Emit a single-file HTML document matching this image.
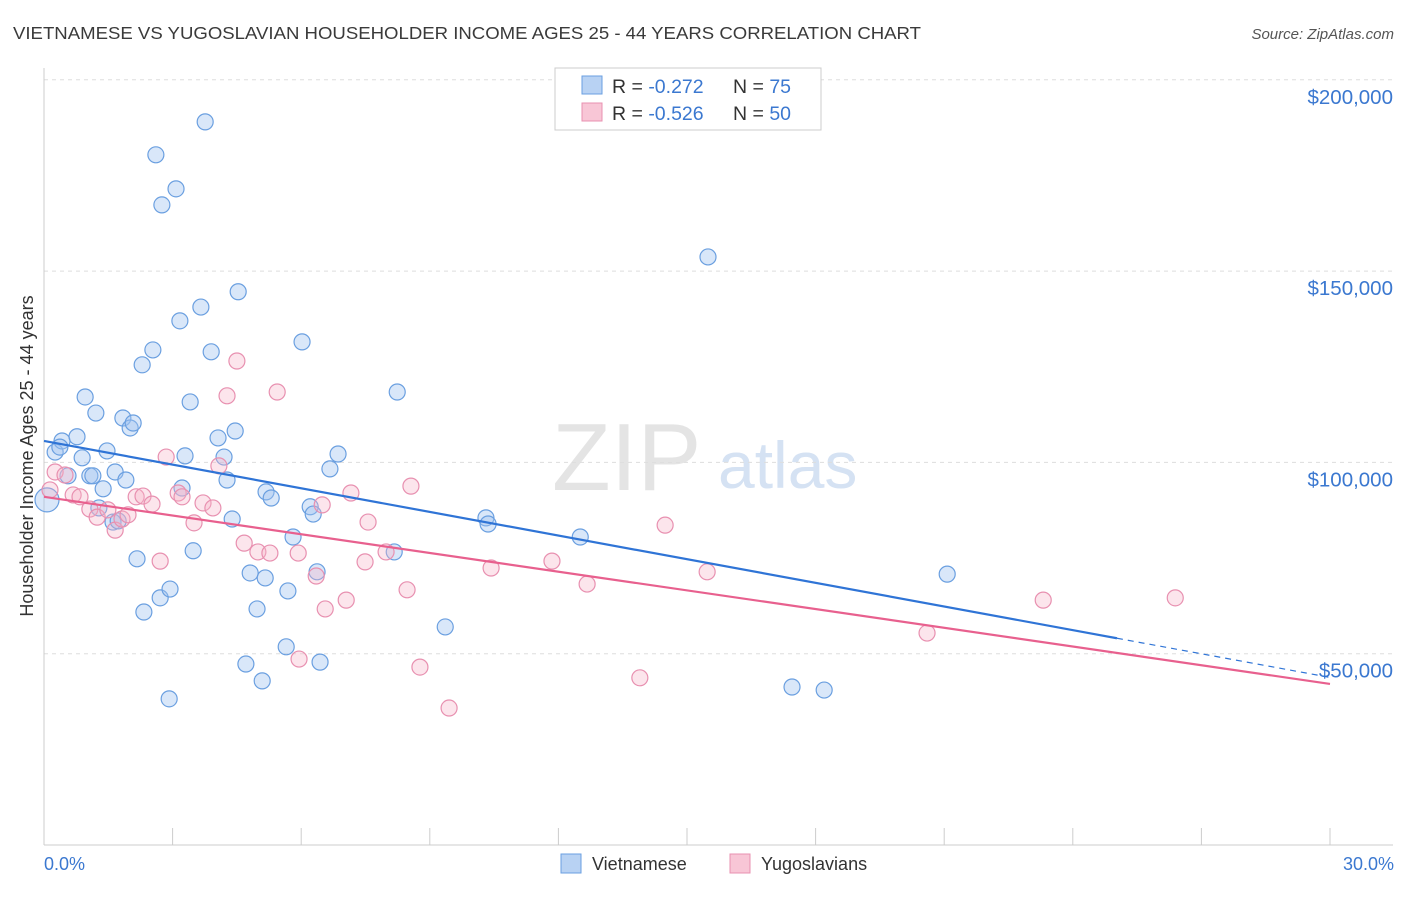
<!DOCTYPE html>
<html><head><meta charset="utf-8"><style>
body{margin:0;background:#fff;font-family:"Liberation Sans",sans-serif;}
svg text{font-family:"Liberation Sans",sans-serif;}
</style></head><body>
<svg id="chart" width="1406" height="892" xmlns="http://www.w3.org/2000/svg">
<text x="13" y="39" font-size="17.5" fill="#3a3a3a" textLength="908" lengthAdjust="spacingAndGlyphs">VIETNAMESE VS YUGOSLAVIAN HOUSEHOLDER INCOME AGES 25 - 44 YEARS CORRELATION CHART</text>
<text x="1394" y="39" font-size="15" fill="#555" text-anchor="end" font-style="italic">Source: ZipAtlas.com</text>
<g>
<text x="552" y="490" font-size="96" fill="#e4e4e4" font-family="Liberation Serif, serif">ZIP</text>
<text x="718" y="488" font-size="66" fill="#d5e2f3">atlas</text>
</g>
<g id="grid"></g>
<g id="axes"></g>
<g id="pts"></g>
<g id="trend"></g>
<text transform="translate(33,456) rotate(-90)" font-size="18" fill="#333" text-anchor="middle">Householder Income Ages 25 - 44 years</text>
<text x="44" y="870" font-size="18" fill="#3b78d0">0.0%</text>
<text x="1394" y="870" font-size="18" fill="#3b78d0" text-anchor="end">30.0%</text>
<g>
<rect x="555" y="68" width="266" height="62" fill="#fff" stroke="#ccc"/>
<rect x="582" y="76" width="20" height="18" fill="#b8d2f3" stroke="#6a9fe0"/>
<rect x="582" y="103" width="20" height="18" fill="#f8c6d6" stroke="#e890b0"/>
<text x="612" y="93" font-size="19.5" fill="#333">R = <tspan fill="#3b78d0">-0.272</tspan></text>
<text x="733" y="93" font-size="19.5" fill="#333">N = <tspan fill="#3b78d0">75</tspan></text>
<text x="612" y="120" font-size="19.5" fill="#333">R = <tspan fill="#3b78d0">-0.526</tspan></text>
<text x="733" y="120" font-size="19.5" fill="#333">N = <tspan fill="#3b78d0">50</tspan></text>
</g>
<g>
<rect x="561" y="854" width="20" height="19" fill="#b8d2f3" stroke="#6a9fe0"/>
<text x="592" y="870" font-size="18" fill="#333">Vietnamese</text>
<rect x="730" y="854" width="20" height="19" fill="#f8c6d6" stroke="#e890b0"/>
<text x="761" y="870" font-size="18" fill="#333">Yugoslavians</text>
</g>
</svg>
<script>
const yTicks=[50000,100000,150000,200000];
const yTickLabels=["$50,000","$100,000","$150,000","$200,000"];
const blueX=[0.07,0.26,0.42,0.37,0.56,0.77,0.96,0.89,1.07,1.21,1.14,1.38,1.47,1.61,1.66,1.73,1.84,1.91,2.01,2.08,1.28,2.17,2.29,2.33,2.54,2.61,2.71,2.75,2.92,2.94,3.08,3.17,3.22,3.29,3.41,3.48,3.66,3.76,3.90,4.06,4.20,4.27,4.39,4.46,4.53,4.71,4.81,4.97,5.09,5.16,5.18,5.30,5.69,5.65,5.81,6.02,6.21,6.28,6.37,6.44,6.67,6.86,8.17,8.24,9.36,10.31,10.36,12.51,15.49,17.45,18.20,21.07];
const blueY=[90.2,102.7,105.6,104.0,96.5,106.7,117.1,101.2,96.5,112.9,96.5,93.1,103.0,84.4,97.5,84.7,111.6,95.4,109.0,110.3,88.1,74.8,125.5,60.9,129.4,180.4,64.6,167.3,38.2,66.9,171.5,137.0,93.3,101.7,115.8,76.9,140.6,189.0,128.9,106.4,101.4,95.4,85.2,108.2,144.6,47.3,71.1,61.7,42.9,69.8,92.3,90.7,66.4,51.8,80.5,131.5,88.4,86.5,71.4,47.8,98.3,102.2,76.6,118.4,57.0,85.5,83.9,80.5,153.7,41.3,40.5,70.8];
const pinkX=[0.14,0.26,0.49,0.68,0.84,1.07,1.24,1.49,1.66,1.82,1.96,2.15,2.31,2.52,2.71,2.85,3.13,3.22,3.50,3.71,3.94,4.08,4.27,4.50,4.67,4.99,5.27,5.44,5.93,5.95,6.35,6.49,6.56,7.05,7.16,7.49,7.56,7.98,8.47,8.56,8.77,9.45,10.43,11.85,12.67,13.90,14.49,15.47,20.60,23.31,26.39];
const pinkY=[92.8,97.5,96.7,91.5,91.0,87.8,85.7,87.6,82.3,85.2,86.3,91.0,91.2,89.1,74.2,101.4,92.0,91.0,84.2,89.4,88.1,99.1,117.4,126.5,78.9,76.6,76.3,118.4,76.3,48.6,70.3,88.9,61.7,64.0,92.0,74.0,84.4,76.6,66.7,93.8,46.5,35.8,72.4,74.2,68.2,43.7,83.6,71.4,55.4,64.0,64.6];
const blueTrend=[105.6,-2.06];
const pinkTrend=[91.0,-1.63];
const NS="http://www.w3.org/2000/svg";
const X=p=>44+p/30*1286;
const Y=v=>845-v/50000*191.3;
const Yk=k=>Y(k*1000);
function mk(t,a,parent){const e=document.createElementNS(NS,t);for(const k in a)e.setAttribute(k,a[k]);parent.appendChild(e);return e;}
const grid=document.getElementById('grid'),axes=document.getElementById('axes');
yTicks.forEach((v,i)=>{
 const l=mk('line',{x1:44,x2:1393,y1:Y(v),y2:Y(v),stroke:'#ddd','stroke-dasharray':'4,4'},grid);
 
 
 const t=mk('text',{x:1393,y:Y(v)+24,'font-size':20.5,fill:'#3b78d0','text-anchor':'end'},grid);
 t.textContent=yTickLabels[i];
 
 
});
mk('line',{x1:44,x2:44,y1:68,y2:845,stroke:'#ccc'},axes);
mk('line',{x1:44,x2:1393,y1:845,y2:845,stroke:'#ccc'},axes);
for(let k=0;k<=10;k++){const tk=mk('line',{x1:X(k*3),x2:X(k*3),y1:828,y2:845,stroke:'#ccc'},axes);
 
 }
const pts=document.getElementById('pts');
blueX.forEach((x,i)=>{const c=mk('circle',{cx:X(x),cy:Yk(blueY[i]),r:i===0?12:8,fill:'rgba(160,196,240,0.4)',stroke:'#6a9fe0','stroke-width':1.2},pts);
 
 });
pinkX.forEach((x,i)=>{const c=mk('circle',{cx:X(x),cy:Yk(pinkY[i]),r:8,fill:'rgba(245,180,200,0.35)',stroke:'#e890b0','stroke-width':1.2},pts);
 
 });
const tr=document.getElementById('trend');
const bt=x=>blueTrend[0]+blueTrend[1]*x, pt=x=>pinkTrend[0]+pinkTrend[1]*x;
const l1=mk('line',{x1:X(0),y1:Yk(bt(0)),x2:X(25.03),y2:Yk(bt(25.03)),stroke:'#2f74d6','stroke-width':2.2},tr);


const l2=mk('line',{x1:X(25.03),y1:Yk(bt(25.03)),x2:X(30),y2:Yk(bt(30)),stroke:'#2f74d6','stroke-width':1.2,'stroke-dasharray':'6,5'},tr);


const l3=mk('line',{x1:X(0),y1:Yk(pt(0)),x2:X(30),y2:Yk(pt(30)),stroke:'#e8608e','stroke-width':2.2},tr);


</script>
</body></html>
